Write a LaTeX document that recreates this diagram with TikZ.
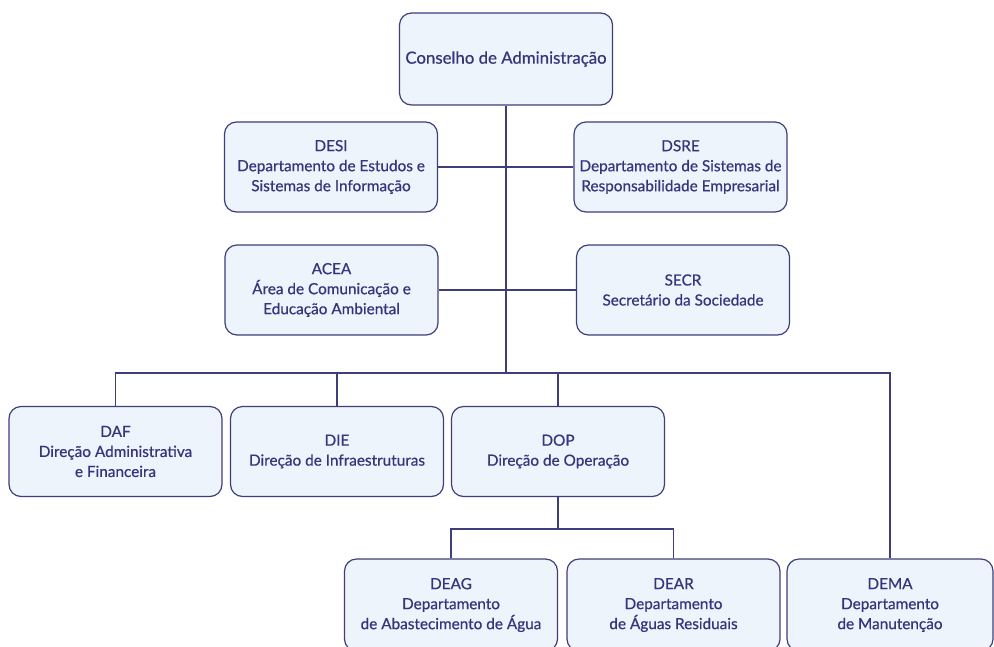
\documentclass[tikz,border=0pt]{standalone}
\usepackage{fontspec}
\setmainfont{Lato}
\newfontfamily\orgfont{Lato}[FakeBold=0.6]
\usetikzlibrary{positioning}
\definecolor{orgline}{RGB}{62,62,122}
\definecolor{orgtext}{RGB}{55,52,125}
\definecolor{orgfill}{RGB}{237,244,251}
\tikzset{
  orgbox/.style={draw=orgline, line width=0.9pt, rounded corners=9pt, fill=orgfill,
    text=orgtext, align=center, minimum width=159.75pt, minimum height=67.5pt,
    inner sep=2pt, font=\orgfont\fontsize{11.5}{15}\selectfont},
  link/.style={draw=orgline, line width=0.8pt}
}

\begin{document}
\begin{tikzpicture}[x=0.75pt,y=-0.75pt]
\useasboundingbox (0,0) rectangle (994,646);
\clip (0,0) rectangle (994,646);
\fill[white] (0,0) rectangle (994,646);
\def\busy{373}
\def\suby{529}
% board and staff units
\node[orgbox, minimum height=69pt, font=\orgfont\fontsize{12.6}{15}\selectfont] (cons) at (506,59) {Conselho de Administração};
\node[orgbox] (desi) at (331,167) {DESI\\Departamento de Estudos e\\Sistemas de Informação};
\node[orgbox] (dsre) at (680.5,167) {DSRE\\Departamento de Sistemas de\\Responsabilidade Empresarial};
\node[orgbox] (acea) at (331.5,290) {ACEA\\Área de Comunicação e\\Educação Ambiental};
\node[orgbox] (secr) at (683,290) {SECR\\Secretário da Sociedade};
% directions
\node[orgbox] (daf) at (115.5,451.5) {DAF\\Direção Administrativa\\e Financeira};
\node[orgbox] (die) at (337,451.5) {DIE\\Direção de Infraestruturas};
\node[orgbox] (dop) at (558,451.5) {DOP\\Direção de Operação};
% departments
\node[orgbox, minimum height=69pt] (deag) at (451,605) {DEAG\\Departamento\\de Abastecimento de Água};
\node[orgbox, minimum height=69pt] (dear) at (673.5,605) {DEAR\\Departamento\\de Águas Residuais};
\node[orgbox, minimum height=69pt, minimum width=154.5pt] (dema) at (890,605) {DEMA\\Departamento\\de Manutenção};
\coordinate (bus) at (506,\busy);
\coordinate (sub) at (558,\suby);
% connectors
\draw[link] (cons.south) -- (bus);
\draw[link] (desi) -- (dsre);
\draw[link] (acea) -- (secr);
\draw[link] (daf.north) |- (bus) -| (dema.north);
\foreach \n in {die,dop}
  \draw[link] (\n.north) -- (\n.north |- bus);
\draw[link] (dop.south) -- (sub);
\draw[link] (deag.north) |- (sub) -| (dear.north);
\end{tikzpicture}
\end{document}
